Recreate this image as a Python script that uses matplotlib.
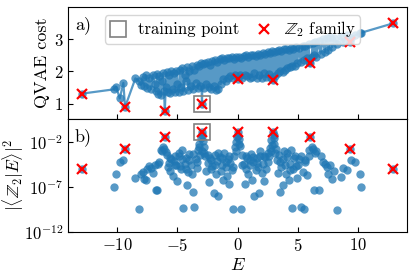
import numpy as np
import matplotlib
matplotlib.use("Agg")
import matplotlib.pyplot as plt

plt.rcParams["font.family"] = "serif"
plt.rcParams["font.serif"] = ["cmr10"]
plt.rcParams["mathtext.fontset"] = "cm"
plt.rcParams["axes.formatter.use_mathtext"] = True
plt.rcParams["axes.unicode_minus"] = True

# eigen-energies, QVAE cost and log10 overlap with the Z2 state
energy = [
    -12.90, -10.30, -10.10, -9.80, -9.50, -9.36,
    -8.50, -8.20, -8.05, -7.90, -7.75, -7.65, -7.50, -7.35, -7.20, -7.05,
    -6.90, -6.80, -6.70, -6.60, -6.50, -6.40, -6.30, -6.20, -6.12, -6.05,
    -5.98, -5.90, -5.80, -5.70, -5.60, -5.50, -5.40, -5.30, -5.20, -5.10,
    -5.00, -4.90, -4.80, -4.70, -4.60, -4.50, -4.40, -4.30, -4.20, -4.10,
    -4.00, -3.90, -3.80, -3.70, -3.60, -3.50, -3.40, -3.30, -3.20, -3.10,
    -3.05, -2.96, -2.90, -2.80, -2.70, -2.60, -2.50, -2.40, -2.30, -2.20,
    -2.10, -2.00, -1.90, -1.80, -1.70, -1.60, -1.50, -1.40, -1.30, -1.20,
    -1.10, -1.00, -0.90, -0.80, -0.70, -0.60, -0.50, -0.40, -0.30, -0.20,
    -0.10, 0.00, 0.10, 0.20, 0.30, 0.40, 0.50, 0.60, 0.70, 0.80,
    0.90, 1.00, 1.10, 1.20, 1.30, 1.40, 1.50, 1.60, 1.70, 1.80,
    1.90, 2.00, 2.10, 2.20, 2.30, 2.40, 2.50, 2.60, 2.70, 2.80,
    2.90, 2.98, 3.05, 3.15, 3.25, 3.35, 3.45, 3.55, 3.65, 3.75,
    3.85, 3.95, 4.05, 4.15, 4.25, 4.35, 4.45, 4.55, 4.65, 4.75,
    4.85, 4.95, 5.10, 5.25, 5.40, 5.50, 5.60, 5.75, 5.90, 5.98,
    6.05, 6.15, 6.25, 6.35, 6.45, 6.55, 6.75, 6.90, 7.10, 7.25,
    7.40, 7.55, 7.70, 7.86, 8.05, 8.28, 8.56, 8.80, 9.10, 9.34,
    9.45, 9.80, 10.15, 10.30, 12.94,
]
cost = [
    1.31, 1.44, 1.52, 1.16, 1.64, 0.89,
    1.78, 1.70, 1.58, 1.82, 1.55, 1.88, 1.48, 1.80, 1.45, 1.90,
    1.60, 1.38, 1.92, 1.30, 1.85, 1.25, 1.70, 1.95, 1.40, 0.77,
    1.50, 1.97, 1.35, 1.88, 1.32, 2.00, 1.45, 1.95, 1.35, 2.02,
    1.60, 1.36, 2.05, 1.50, 2.10, 1.38, 1.90, 1.70, 2.12, 1.42,
    2.00, 1.55, 2.15, 1.45, 2.05, 1.65, 2.20, 1.48, 2.18, 1.55,
    2.25, 1.00, 2.22, 1.47, 2.25, 1.60, 2.28, 1.50, 2.20, 1.45,
    2.32, 1.55, 2.35, 1.42, 2.30, 1.45, 2.38, 1.60, 2.40, 1.75,
    2.35, 1.70, 2.42, 1.80, 2.40, 1.85, 2.45, 1.78, 2.38, 1.90,
    2.45, 1.76, 2.44, 1.88, 2.40, 1.80, 2.48, 1.90, 2.50, 1.85,
    2.45, 1.78, 2.50, 1.82, 2.52, 1.95, 2.48, 1.78, 2.55, 1.90,
    2.50, 1.80, 2.57, 1.95, 2.55, 1.82, 2.60, 1.92, 2.58, 1.80,
    2.62, 1.73, 2.60, 1.85, 2.64, 1.95, 2.66, 2.00, 2.62, 1.98,
    2.68, 2.05, 2.70, 2.10, 2.66, 2.14, 2.72, 2.15, 2.70, 2.18,
    2.75, 2.25, 2.72, 2.30, 2.78, 2.35, 2.80, 2.40, 2.85, 2.30,
    2.25, 2.45, 2.88, 2.50, 2.90, 2.45, 2.95, 2.55, 3.00, 2.60,
    3.05, 2.65, 3.07, 2.75, 3.05, 2.85, 3.10, 2.90, 3.12, 2.90,
    3.05, 3.12, 3.18, 3.20, 3.49,
]
overlap_log10 = [
    -5.00, -6.95, -5.50, -4.18, -4.00, -2.78,
    -5.95, -9.40, -5.60, -5.30, -6.10, -6.20, -5.00, -4.70, -4.90, -5.40,
    -4.60, -7.30, -7.30, -4.40, -4.20, -2.90, -3.00, -2.60, -2.75, -1.48,
    -3.10, -3.40, -4.80, -4.30, -5.20, -3.90, -5.80, -4.10, -3.60, -4.50,
    -6.30, -3.20, -4.70, -5.00, -2.90, -9.30, -4.40, -3.80, -6.80, -5.30,
    -3.30, -4.60, -5.60, -7.50, -9.20, -3.90, -4.90, -2.90, -2.20, -3.40,
    -1.60, -0.84, -1.90, -2.60, -3.60, -5.20, -4.30, -6.40, -3.80, -5.00,
    -4.70, -7.60, -3.40, -5.60, -4.10, -8.00, -3.70, -5.20, -4.50, -6.20,
    -3.20, -4.80, -5.80, -3.90, -6.60, -4.30, -5.10, -9.40, -3.60, -2.50,
    -3.00, -0.90, -1.70, -2.40, -9.40, -3.40, -4.40, -6.60, -5.00, -3.80,
    -5.60, -4.60, -3.30, -6.20, -4.20, -8.00, -5.10, -3.80, -4.80, -7.60,
    -3.50, -5.40, -4.40, -6.30, -3.70, -5.00, -4.20, -3.50, -2.70, -1.80,
    -2.30, -0.84, -1.50, -3.20, -4.00, -5.40, -3.40, -7.50, -4.80, -6.80,
    -3.00, -4.50, -5.60, -3.70, -6.20, -4.40, -2.90, -9.30, -5.00, -3.60,
    -4.70, -6.00, -3.90, -9.20, -5.30, -9.40, -4.20, -5.70, -3.50, -2.90,
    -1.48, -2.50, -2.80, -7.30, -3.20, -3.00, -7.30, -3.50, -4.20, -4.40,
    -4.80, -5.50, -4.60, -6.10, -5.20, -9.55, -5.85, -4.90, -5.10, -2.78,
    -4.00, -4.20, -5.50, -6.96, -5.00,
]

# extra states in the dense middle of panel b)
extra_energy = [
    -5.6, -5.2, -4.9, -4.6, -4.3, -4.0, -3.7, -3.4, -3.2, -3.0, -2.8,
    -2.5, -2.2, -1.9, -1.6, -1.3, -1.0, -0.7, -0.4, -0.1, 0.1, 0.4,
    0.7, 1.0, 1.3, 1.6, 1.9, 2.2, 2.5, 2.8, 3.0, 3.2, 3.5, 3.8,
    4.1, 4.4, 4.7, 5.0, 5.3, 5.6, -0.05, 0.05, -3.0, 3.0,
]
extra_overlap_log10 = [
    -3.8, -4.6, -3.5, -3.9, -5.0, -4.0, -3.3, -4.2, -2.6, -3.0, -3.2,
    -3.4, -4.0, -4.5, -3.2, -3.8, -4.2, -3.5, -4.8, -2.0, -2.2, -4.6,
    -3.5, -4.0, -3.7, -4.3, -3.0, -3.6, -3.2, -3.0, -2.2, -2.8, -4.2,
    -3.9, -3.2, -5.1, -3.8, -4.5, -3.5, -4.0, -1.4, -1.3, -1.2, -1.2,
]

# Z2 family states
z2_energy = [-12.90, -9.36, -6.05, -2.96, 0.00, 2.98, 6.05, 9.34, 12.94]
z2_cost = [1.31, 0.89, 0.77, 1.00, 1.76, 1.73, 2.25, 2.90, 3.49]
z2_overlap_log10 = [-5.00, -2.78, -1.48, -0.84, -0.90, -0.84, -1.48, -2.78, -5.00]

# training point
train_energy = -2.96
train_cost = 1.00
train_overlap_log10 = -0.84

overlap = 10.0 ** np.array(overlap_log10)
extra_overlap = 10.0 ** np.array(extra_overlap_log10)
z2_overlap = 10.0 ** np.array(z2_overlap_log10)
train_overlap = 10.0 ** train_overlap_log10

fig = plt.figure(figsize=(4.15, 2.76), dpi=100)
ax1 = fig.add_axes([0.164, 0.570, 0.817, 0.405])
ax2 = fig.add_axes([0.164, 0.159, 0.817, 0.411], sharex=ax1)

blue = "#1f77b4"

# a) QVAE cost
ax1.plot(energy, cost, "o-", color=blue, alpha=0.75, ms=6, lw=1.6, mew=0)
ax1.plot(train_energy, train_cost, "s", ms=11, mfc="none", mec="0.5", mew=1.2,
         label="training point")
ax1.plot(z2_energy, z2_cost, "x", color="red", ms=7.5, mew=1.6, ls="none",
         label=r"$\mathbb{Z}_2$ family")
ax1.set_ylim(0.53, 4.0)
ax1.set_yticks([1, 2, 3])
ax1.set_ylabel("QVAE cost", fontsize=13)
ax1.yaxis.set_label_coords(-0.053, 0.5)
ax1.text(0.02, 0.92, "a)", transform=ax1.transAxes, fontsize=13, va="top")
ax1.legend(loc="upper center", ncol=2, fontsize=12, handlelength=1.0,
           handletextpad=0.7, columnspacing=1.0, borderpad=0.25,
           bbox_to_anchor=(0.485, 1.0))
ax1.tick_params(labelbottom=False)

# b) overlap with Z2 state
ax2.scatter(energy, overlap, s=36, color=blue, alpha=0.75, linewidths=0)
ax2.scatter(extra_energy, extra_overlap, s=36, color=blue, alpha=0.75, linewidths=0)
ax2.plot(train_energy, train_overlap, "s", ms=11, mfc="none", mec="0.5", mew=1.2)
ax2.plot(z2_energy, z2_overlap, "x", color="red", ms=7.5, mew=1.6, ls="none")
ax2.set_yscale("log")
ax2.set_ylim(1e-12, 10 ** 0.6)
ax2.set_yticks([1e-12, 1e-7, 1e-2])
ax2.minorticks_off()
ax2.set_ylabel(r"$|\langle\mathbb{Z}_2|E\rangle|^2$", fontsize=12.5)
ax2.yaxis.set_label_coords(-0.125, 0.5)
ax2.text(0.02, 0.92, "b)", transform=ax2.transAxes, fontsize=13, va="top")
ax2.set_xlim(-14.1, 14.1)
ax2.set_xticks([-10, -5, 0, 5, 10])
ax2.set_xlabel("$E$", fontsize=13, labelpad=2)

for ax in (ax1, ax2):
    ax.tick_params(direction="in", labelsize=12, length=3.5)
    ax.yaxis.set_minor_locator(matplotlib.ticker.NullLocator())

fig.savefig("out.png", dpi=100)
